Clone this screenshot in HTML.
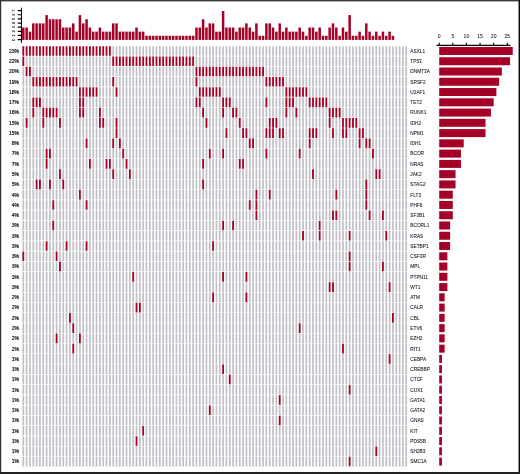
<!DOCTYPE html><html><head><meta charset="utf-8"><title>Oncoprint</title>
<style>html,body{margin:0;padding:0;background:#fff}svg{display:block}text{font-family:"Liberation Sans",sans-serif;fill:#151515;stroke:#151515;stroke-width:.14px}.gl text{stroke-width:.08px}</style></head><body>
<svg width="520" height="474" viewBox="0 0 520 474">
<rect width="520" height="474" fill="#fff"/>
<g stroke="#C1BFC7" stroke-width="9.65" stroke-dasharray="1.72 1.610" fill="none">
<path d="M112.35 50.98H407.11"/>
<path d="M25.77 61.24H110.74M195.60 61.24H407.11"/>
<path d="M22.44 71.51H24.16M32.43 71.51H193.99M265.53 71.51H407.11"/>
<path d="M22.44 81.77H30.82M79.05 81.77H110.74M115.68 81.77H193.99M198.93 81.77H263.92M285.51 81.77H407.11"/>
<path d="M22.44 92.04H77.44M99.03 92.04H114.07M119.01 92.04H197.32M222.24 92.04H283.90M308.82 92.04H407.11"/>
<path d="M22.44 102.30H30.82M42.42 102.30H77.44M85.71 102.30H193.99M202.26 102.30H220.63M232.23 102.30H263.92M268.86 102.30H283.90M295.50 102.30H307.21M328.80 102.30H407.11"/>
<path d="M22.44 112.57H30.82M35.76 112.57H40.81M59.07 112.57H77.44M85.71 112.57H97.42M102.36 112.57H200.65M205.59 112.57H220.63M225.57 112.57H230.62M238.89 112.57H283.90M288.84 112.57H293.89M298.83 112.57H327.19M342.12 112.57H407.11"/>
<path d="M22.44 122.83H24.16M29.10 122.83H40.81M45.75 122.83H57.46M62.40 122.83H97.42M105.69 122.83H114.07M119.01 122.83H203.98M208.92 122.83H237.28M242.22 122.83H267.25M278.85 122.83H327.19M332.13 122.83H340.51M358.77 122.83H407.11"/>
<path d="M22.44 133.09H114.07M119.01 133.09H223.96M228.90 133.09H240.61M248.88 133.09H263.92M275.52 133.09H277.24M285.51 133.09H307.21M318.81 133.09H330.52M335.46 133.09H340.51M348.78 133.09H357.16M365.43 133.09H407.11"/>
<path d="M22.44 143.36H84.10M89.04 143.36H110.74M115.68 143.36H117.40M122.34 143.36H247.27M255.54 143.36H307.21M312.15 143.36H357.16M362.10 143.36H363.82M372.09 143.36H407.11"/>
<path d="M22.44 153.62H44.14M52.41 153.62H120.73M125.67 153.62H207.31M212.25 153.62H220.63M225.57 153.62H263.92M268.86 153.62H297.22M302.16 153.62H370.48M375.42 153.62H407.11"/>
<path d="M22.44 163.89H44.14M49.08 163.89H87.43M92.37 163.89H104.08M112.35 163.89H124.06M129.00 163.89H200.65M205.59 163.89H237.28M245.55 163.89H407.11"/>
<path d="M22.44 174.16H57.46M62.40 174.16H110.74M115.68 174.16H127.39M132.33 174.16H310.54M315.48 174.16H373.81M382.08 174.16H407.11"/>
<path d="M22.44 184.42H34.15M42.42 184.42H47.47M52.41 184.42H60.79M65.73 184.42H200.65M205.59 184.42H363.82M368.76 184.42H407.11"/>
<path d="M22.44 194.69H77.44M82.38 194.69H253.93M258.87 194.69H267.25M272.19 194.69H333.85M338.79 194.69H363.82M368.76 194.69H407.11"/>
<path d="M22.44 204.95H50.80M55.74 204.95H84.10M89.04 204.95H247.27M252.21 204.95H253.93M258.87 204.95H363.82M368.76 204.95H407.11"/>
<path d="M22.44 215.22H253.93M258.87 215.22H330.52M338.79 215.22H367.15M372.09 215.22H380.47M385.41 215.22H407.11"/>
<path d="M22.44 225.48H50.80M55.74 225.48H220.63M225.57 225.48H230.62M235.56 225.48H317.20M322.14 225.48H407.11"/>
<path d="M22.44 235.75H300.55M305.49 235.75H317.20M322.14 235.75H347.17M352.11 235.75H383.80M388.74 235.75H407.11"/>
<path d="M22.44 246.01H44.14M49.08 246.01H64.12M69.06 246.01H84.10M89.04 246.01H210.64M215.58 246.01H407.11"/>
<path d="M25.77 256.28H54.13M59.07 256.28H347.17M352.11 256.28H407.11"/>
<path d="M22.44 266.54H57.46M62.40 266.54H347.17M352.11 266.54H380.47M385.41 266.54H407.11"/>
<path d="M22.44 276.81H130.72M135.66 276.81H220.63M225.57 276.81H243.94M248.88 276.81H407.11"/>
<path d="M22.44 287.07H327.19M335.46 287.07H387.13M392.07 287.07H407.11"/>
<path d="M22.44 297.33H210.64M215.58 297.33H243.94M248.88 297.33H407.11"/>
<path d="M22.44 307.60H134.05M142.32 307.60H407.11"/>
<path d="M22.44 317.86H67.45M72.39 317.86H390.46M395.40 317.86H407.11"/>
<path d="M22.44 328.13H70.78M75.72 328.13H297.22M302.16 328.13H407.11"/>
<path d="M22.44 338.39H54.13M59.07 338.39H77.44M82.38 338.39H407.11"/>
<path d="M22.44 348.66H70.78M75.72 348.66H340.51M345.45 348.66H407.11"/>
<path d="M22.44 358.93H387.13M392.07 358.93H407.11"/>
<path d="M22.44 369.19H220.63M225.57 369.19H407.11"/>
<path d="M22.44 379.45H227.29M232.23 379.45H407.11"/>
<path d="M22.44 389.72H347.17M352.11 389.72H407.11"/>
<path d="M22.44 399.98H277.24M282.18 399.98H407.11"/>
<path d="M22.44 410.25H207.31M212.25 410.25H407.11"/>
<path d="M22.44 420.51H277.24M282.18 420.51H407.11"/>
<path d="M22.44 430.78H140.71M145.65 430.78H407.11"/>
<path d="M22.44 441.05H134.05M138.99 441.05H407.11"/>
<path d="M22.44 451.31H373.81M378.75 451.31H407.11"/>
<path d="M22.44 461.57H347.17M352.11 461.57H407.11"/>
</g>
<g stroke="#A50026" stroke-width="9.65" stroke-dasharray="1.85 1.480" fill="none">
<path d="M22.38 50.98H110.80"/>
<path d="M22.38 61.24H24.23M112.28 61.24H194.06"/>
<path d="M25.70 71.51H30.89M195.53 71.51H263.99"/>
<path d="M32.37 81.77H77.50M112.28 81.77H114.13M195.53 81.77H197.38M265.47 81.77H283.97"/>
<path d="M78.98 92.04H97.48M115.62 92.04H117.47M198.87 92.04H220.69M285.44 92.04H307.28"/>
<path d="M32.37 102.30H40.88M78.98 102.30H84.16M195.53 102.30H200.72M222.18 102.30H230.69M265.47 102.30H267.32M285.44 102.30H293.96M308.75 102.30H327.26"/>
<path d="M32.37 112.57H34.22M42.36 112.57H57.52M78.98 112.57H84.16M98.97 112.57H100.81M202.19 112.57H204.04M222.18 112.57H224.03M232.16 112.57H237.34M285.44 112.57H287.30M295.44 112.57H297.29M328.74 112.57H340.58"/>
<path d="M25.70 122.83H27.55M42.36 122.83H44.21M59.01 122.83H60.86M98.97 122.83H104.14M115.62 122.83H117.47M205.53 122.83H207.38M238.83 122.83H240.68M268.80 122.83H277.31M328.74 122.83H330.59M342.06 122.83H357.23"/>
<path d="M115.62 133.09H117.47M225.50 133.09H227.35M242.16 133.09H247.34M265.47 133.09H273.98M278.79 133.09H283.97M308.75 133.09H317.27M332.06 133.09H333.92M342.06 133.09H347.24M358.70 133.09H363.89"/>
<path d="M85.65 143.36H87.50M112.28 143.36H114.13M118.95 143.36H120.80M248.81 143.36H254.00M308.75 143.36H310.61M358.70 143.36H360.56M365.37 143.36H370.55"/>
<path d="M45.69 153.62H50.87M122.28 153.62H124.12M208.86 153.62H210.71M222.18 153.62H224.03M265.47 153.62H267.32M298.76 153.62H300.62M372.03 153.62H373.88"/>
<path d="M45.69 163.89H47.54M88.97 163.89H90.82M105.62 163.89H110.80M125.61 163.89H127.45M202.19 163.89H204.04M238.83 163.89H244.00"/>
<path d="M59.01 174.16H60.86M112.28 174.16H114.13M128.94 174.16H130.78M312.08 174.16H313.94M375.36 174.16H380.54"/>
<path d="M35.70 184.42H40.88M49.02 184.42H50.87M62.34 184.42H64.19M202.19 184.42H204.04M365.37 184.42H367.22"/>
<path d="M78.98 194.69H80.83M255.47 194.69H257.32M268.80 194.69H270.65M335.39 194.69H337.25M365.37 194.69H367.22"/>
<path d="M52.34 204.95H54.20M85.65 204.95H87.50M248.81 204.95H250.66M255.47 204.95H257.32M365.37 204.95H367.22"/>
<path d="M255.47 215.22H257.32M332.06 215.22H337.25M368.69 215.22H370.55M382.01 215.22H383.87"/>
<path d="M52.34 225.48H54.20M222.18 225.48H224.03M232.16 225.48H234.01M318.75 225.48H320.60"/>
<path d="M302.10 235.75H303.95M318.75 235.75H320.60M348.72 235.75H350.57M385.35 235.75H387.20"/>
<path d="M45.69 246.01H47.54M65.66 246.01H67.51M85.65 246.01H87.50M212.19 246.01H214.03"/>
<path d="M22.38 256.28H24.23M55.67 256.28H57.52M348.72 256.28H350.57"/>
<path d="M59.01 266.54H60.86M348.72 266.54H350.57M382.01 266.54H383.87"/>
<path d="M132.26 276.81H134.11M222.18 276.81H224.03M245.49 276.81H247.34"/>
<path d="M328.74 287.07H333.92M388.68 287.07H390.53"/>
<path d="M212.19 297.33H214.03M245.49 297.33H247.34"/>
<path d="M135.59 307.60H140.78"/>
<path d="M69.00 317.86H70.84M392.00 317.86H393.86"/>
<path d="M72.33 328.13H74.17M298.76 328.13H300.62"/>
<path d="M55.67 338.39H57.52M78.98 338.39H80.83"/>
<path d="M72.33 348.66H74.17M342.06 348.66H343.91"/>
<path d="M388.68 358.93H390.53"/>
<path d="M222.18 369.19H224.03"/>
<path d="M228.84 379.45H230.69"/>
<path d="M348.72 389.72H350.57"/>
<path d="M278.79 399.98H280.64"/>
<path d="M208.86 410.25H210.71"/>
<path d="M278.79 420.51H280.64"/>
<path d="M142.25 430.78H144.10"/>
<path d="M135.59 441.05H137.44"/>
<path d="M375.36 451.31H377.21"/>
<path d="M348.72 461.57H350.57"/>
</g>
<g fill="#A50026">
<rect x="22.05" y="27.51" width="2.5" height="12.39"/>
<rect x="25.38" y="27.51" width="2.5" height="12.39"/>
<rect x="28.71" y="31.64" width="2.5" height="8.26"/>
<rect x="32.04" y="23.38" width="2.5" height="16.52"/>
<rect x="35.37" y="23.38" width="2.5" height="16.52"/>
<rect x="38.70" y="23.38" width="2.5" height="16.52"/>
<rect x="42.03" y="23.38" width="2.5" height="16.52"/>
<rect x="45.36" y="15.12" width="2.5" height="24.78"/>
<rect x="48.69" y="19.25" width="2.5" height="20.65"/>
<rect x="52.02" y="19.25" width="2.5" height="20.65"/>
<rect x="55.35" y="19.25" width="2.5" height="20.65"/>
<rect x="58.68" y="19.25" width="2.5" height="20.65"/>
<rect x="62.01" y="27.51" width="2.5" height="12.39"/>
<rect x="65.34" y="27.51" width="2.5" height="12.39"/>
<rect x="68.67" y="27.51" width="2.5" height="12.39"/>
<rect x="72.00" y="23.38" width="2.5" height="16.52"/>
<rect x="75.33" y="31.64" width="2.5" height="8.26"/>
<rect x="78.66" y="15.12" width="2.5" height="24.78"/>
<rect x="81.99" y="23.38" width="2.5" height="16.52"/>
<rect x="85.32" y="19.25" width="2.5" height="20.65"/>
<rect x="88.65" y="27.51" width="2.5" height="12.39"/>
<rect x="91.98" y="31.64" width="2.5" height="8.26"/>
<rect x="95.31" y="31.64" width="2.5" height="8.26"/>
<rect x="98.64" y="27.51" width="2.5" height="12.39"/>
<rect x="101.97" y="31.64" width="2.5" height="8.26"/>
<rect x="105.30" y="31.64" width="2.5" height="8.26"/>
<rect x="108.63" y="31.64" width="2.5" height="8.26"/>
<rect x="111.96" y="23.38" width="2.5" height="16.52"/>
<rect x="115.29" y="23.38" width="2.5" height="16.52"/>
<rect x="118.62" y="31.64" width="2.5" height="8.26"/>
<rect x="121.95" y="31.64" width="2.5" height="8.26"/>
<rect x="125.28" y="31.64" width="2.5" height="8.26"/>
<rect x="128.61" y="31.64" width="2.5" height="8.26"/>
<rect x="131.94" y="31.64" width="2.5" height="8.26"/>
<rect x="135.27" y="27.51" width="2.5" height="12.39"/>
<rect x="138.60" y="31.64" width="2.5" height="8.26"/>
<rect x="141.93" y="31.64" width="2.5" height="8.26"/>
<rect x="145.26" y="35.77" width="2.5" height="4.13"/>
<rect x="148.59" y="35.77" width="2.5" height="4.13"/>
<rect x="151.92" y="35.77" width="2.5" height="4.13"/>
<rect x="155.25" y="35.77" width="2.5" height="4.13"/>
<rect x="158.58" y="35.77" width="2.5" height="4.13"/>
<rect x="161.91" y="35.77" width="2.5" height="4.13"/>
<rect x="165.24" y="35.77" width="2.5" height="4.13"/>
<rect x="168.57" y="35.77" width="2.5" height="4.13"/>
<rect x="171.90" y="35.77" width="2.5" height="4.13"/>
<rect x="175.23" y="35.77" width="2.5" height="4.13"/>
<rect x="178.56" y="35.77" width="2.5" height="4.13"/>
<rect x="181.89" y="35.77" width="2.5" height="4.13"/>
<rect x="185.22" y="35.77" width="2.5" height="4.13"/>
<rect x="188.55" y="35.77" width="2.5" height="4.13"/>
<rect x="191.88" y="35.77" width="2.5" height="4.13"/>
<rect x="195.21" y="27.51" width="2.5" height="12.39"/>
<rect x="198.54" y="27.51" width="2.5" height="12.39"/>
<rect x="201.87" y="19.25" width="2.5" height="20.65"/>
<rect x="205.20" y="27.51" width="2.5" height="12.39"/>
<rect x="208.53" y="23.38" width="2.5" height="16.52"/>
<rect x="211.86" y="23.38" width="2.5" height="16.52"/>
<rect x="215.19" y="31.64" width="2.5" height="8.26"/>
<rect x="218.52" y="31.64" width="2.5" height="8.26"/>
<rect x="221.85" y="10.99" width="2.5" height="28.91"/>
<rect x="225.18" y="27.51" width="2.5" height="12.39"/>
<rect x="228.51" y="27.51" width="2.5" height="12.39"/>
<rect x="231.84" y="27.51" width="2.5" height="12.39"/>
<rect x="235.17" y="31.64" width="2.5" height="8.26"/>
<rect x="238.50" y="27.51" width="2.5" height="12.39"/>
<rect x="241.83" y="27.51" width="2.5" height="12.39"/>
<rect x="245.16" y="23.38" width="2.5" height="16.52"/>
<rect x="248.49" y="27.51" width="2.5" height="12.39"/>
<rect x="251.82" y="31.64" width="2.5" height="8.26"/>
<rect x="255.15" y="23.38" width="2.5" height="16.52"/>
<rect x="258.48" y="35.77" width="2.5" height="4.13"/>
<rect x="261.81" y="35.77" width="2.5" height="4.13"/>
<rect x="265.14" y="23.38" width="2.5" height="16.52"/>
<rect x="268.47" y="23.38" width="2.5" height="16.52"/>
<rect x="271.80" y="27.51" width="2.5" height="12.39"/>
<rect x="275.13" y="31.64" width="2.5" height="8.26"/>
<rect x="278.46" y="23.38" width="2.5" height="16.52"/>
<rect x="281.79" y="31.64" width="2.5" height="8.26"/>
<rect x="285.12" y="27.51" width="2.5" height="12.39"/>
<rect x="288.45" y="31.64" width="2.5" height="8.26"/>
<rect x="291.78" y="31.64" width="2.5" height="8.26"/>
<rect x="295.11" y="31.64" width="2.5" height="8.26"/>
<rect x="298.44" y="27.51" width="2.5" height="12.39"/>
<rect x="301.77" y="31.64" width="2.5" height="8.26"/>
<rect x="305.10" y="35.77" width="2.5" height="4.13"/>
<rect x="308.43" y="27.51" width="2.5" height="12.39"/>
<rect x="311.76" y="27.51" width="2.5" height="12.39"/>
<rect x="315.09" y="31.64" width="2.5" height="8.26"/>
<rect x="318.42" y="27.51" width="2.5" height="12.39"/>
<rect x="321.75" y="35.77" width="2.5" height="4.13"/>
<rect x="325.08" y="35.77" width="2.5" height="4.13"/>
<rect x="328.41" y="27.51" width="2.5" height="12.39"/>
<rect x="331.74" y="23.38" width="2.5" height="16.52"/>
<rect x="335.07" y="27.51" width="2.5" height="12.39"/>
<rect x="338.40" y="35.77" width="2.5" height="4.13"/>
<rect x="341.73" y="27.51" width="2.5" height="12.39"/>
<rect x="345.06" y="31.64" width="2.5" height="8.26"/>
<rect x="348.39" y="15.12" width="2.5" height="24.78"/>
<rect x="351.72" y="35.77" width="2.5" height="4.13"/>
<rect x="355.05" y="35.77" width="2.5" height="4.13"/>
<rect x="358.38" y="31.64" width="2.5" height="8.26"/>
<rect x="361.71" y="35.77" width="2.5" height="4.13"/>
<rect x="365.04" y="23.38" width="2.5" height="16.52"/>
<rect x="368.37" y="31.64" width="2.5" height="8.26"/>
<rect x="371.70" y="35.77" width="2.5" height="4.13"/>
<rect x="375.03" y="31.64" width="2.5" height="8.26"/>
<rect x="378.36" y="35.77" width="2.5" height="4.13"/>
<rect x="381.69" y="31.64" width="2.5" height="8.26"/>
<rect x="385.02" y="35.77" width="2.5" height="4.13"/>
<rect x="388.35" y="31.64" width="2.5" height="8.26"/>
<rect x="391.68" y="35.77" width="2.5" height="4.13"/>
</g>
<g stroke="#000" fill="none">
<path stroke-width="1" d="M21.45 7.7V42.8"/>
<path stroke-width="1.2" d="M17.7 39.60H21.45M17.7 35.46H21.45M17.7 31.32H21.45M17.7 27.18H21.45M17.7 23.04H21.45M17.7 18.90H21.45M17.7 14.76H21.45M17.7 10.62H21.45"/>
</g>
<text transform="translate(14.7 39.60) rotate(-90)" font-size="4" text-anchor="middle" style="stroke-width:.1px;fill:#000;stroke:#000">0</text>
<text transform="translate(14.7 35.46) rotate(-90)" font-size="4" text-anchor="middle" style="stroke-width:.1px;fill:#000;stroke:#000">1</text>
<text transform="translate(14.7 31.32) rotate(-90)" font-size="4" text-anchor="middle" style="stroke-width:.1px;fill:#000;stroke:#000">2</text>
<text transform="translate(14.7 27.18) rotate(-90)" font-size="4" text-anchor="middle" style="stroke-width:.1px;fill:#000;stroke:#000">3</text>
<text transform="translate(14.7 23.04) rotate(-90)" font-size="4" text-anchor="middle" style="stroke-width:.1px;fill:#000;stroke:#000">4</text>
<text transform="translate(14.7 18.90) rotate(-90)" font-size="4" text-anchor="middle" style="stroke-width:.1px;fill:#000;stroke:#000">5</text>
<text transform="translate(14.7 14.76) rotate(-90)" font-size="4" text-anchor="middle" style="stroke-width:.1px;fill:#000;stroke:#000">6</text>
<text transform="translate(14.7 10.62) rotate(-90)" font-size="4" text-anchor="middle" style="stroke-width:.1px;fill:#000;stroke:#000">7</text>
<text x="19.1" y="52.83" font-size="5.3" text-anchor="end" style="stroke-width:.2px" textLength="10.2" lengthAdjust="spacingAndGlyphs">23%</text>
<text x="19.1" y="63.09" font-size="5.3" text-anchor="end" style="stroke-width:.2px" textLength="10.2" lengthAdjust="spacingAndGlyphs">22%</text>
<text x="19.1" y="73.36" font-size="5.3" text-anchor="end" style="stroke-width:.2px" textLength="10.2" lengthAdjust="spacingAndGlyphs">20%</text>
<text x="19.1" y="83.62" font-size="5.3" text-anchor="end" style="stroke-width:.2px" textLength="10.2" lengthAdjust="spacingAndGlyphs">19%</text>
<text x="19.1" y="93.89" font-size="5.3" text-anchor="end" style="stroke-width:.2px" textLength="10.2" lengthAdjust="spacingAndGlyphs">18%</text>
<text x="19.1" y="104.15" font-size="5.3" text-anchor="end" style="stroke-width:.2px" textLength="10.2" lengthAdjust="spacingAndGlyphs">17%</text>
<text x="19.1" y="114.42" font-size="5.3" text-anchor="end" style="stroke-width:.2px" textLength="10.2" lengthAdjust="spacingAndGlyphs">16%</text>
<text x="19.1" y="124.68" font-size="5.3" text-anchor="end" style="stroke-width:.2px" textLength="10.2" lengthAdjust="spacingAndGlyphs">15%</text>
<text x="19.1" y="134.94" font-size="5.3" text-anchor="end" style="stroke-width:.2px" textLength="10.2" lengthAdjust="spacingAndGlyphs">15%</text>
<text x="19.1" y="145.21" font-size="5.3" text-anchor="end" style="stroke-width:.2px" textLength="7.4" lengthAdjust="spacingAndGlyphs">8%</text>
<text x="19.1" y="155.47" font-size="5.3" text-anchor="end" style="stroke-width:.2px" textLength="7.4" lengthAdjust="spacingAndGlyphs">7%</text>
<text x="19.1" y="165.74" font-size="5.3" text-anchor="end" style="stroke-width:.2px" textLength="7.4" lengthAdjust="spacingAndGlyphs">7%</text>
<text x="19.1" y="176.00" font-size="5.3" text-anchor="end" style="stroke-width:.2px" textLength="7.4" lengthAdjust="spacingAndGlyphs">5%</text>
<text x="19.1" y="186.27" font-size="5.3" text-anchor="end" style="stroke-width:.2px" textLength="7.4" lengthAdjust="spacingAndGlyphs">5%</text>
<text x="19.1" y="196.53" font-size="5.3" text-anchor="end" style="stroke-width:.2px" textLength="7.4" lengthAdjust="spacingAndGlyphs">4%</text>
<text x="19.1" y="206.80" font-size="5.3" text-anchor="end" style="stroke-width:.2px" textLength="7.4" lengthAdjust="spacingAndGlyphs">4%</text>
<text x="19.1" y="217.06" font-size="5.3" text-anchor="end" style="stroke-width:.2px" textLength="7.4" lengthAdjust="spacingAndGlyphs">4%</text>
<text x="19.1" y="227.33" font-size="5.3" text-anchor="end" style="stroke-width:.2px" textLength="7.4" lengthAdjust="spacingAndGlyphs">3%</text>
<text x="19.1" y="237.59" font-size="5.3" text-anchor="end" style="stroke-width:.2px" textLength="7.4" lengthAdjust="spacingAndGlyphs">3%</text>
<text x="19.1" y="247.86" font-size="5.3" text-anchor="end" style="stroke-width:.2px" textLength="7.4" lengthAdjust="spacingAndGlyphs">3%</text>
<text x="19.1" y="258.13" font-size="5.3" text-anchor="end" style="stroke-width:.2px" textLength="7.4" lengthAdjust="spacingAndGlyphs">3%</text>
<text x="19.1" y="268.39" font-size="5.3" text-anchor="end" style="stroke-width:.2px" textLength="7.4" lengthAdjust="spacingAndGlyphs">3%</text>
<text x="19.1" y="278.66" font-size="5.3" text-anchor="end" style="stroke-width:.2px" textLength="7.4" lengthAdjust="spacingAndGlyphs">3%</text>
<text x="19.1" y="288.92" font-size="5.3" text-anchor="end" style="stroke-width:.2px" textLength="7.4" lengthAdjust="spacingAndGlyphs">3%</text>
<text x="19.1" y="299.19" font-size="5.3" text-anchor="end" style="stroke-width:.2px" textLength="7.4" lengthAdjust="spacingAndGlyphs">2%</text>
<text x="19.1" y="309.45" font-size="5.3" text-anchor="end" style="stroke-width:.2px" textLength="7.4" lengthAdjust="spacingAndGlyphs">2%</text>
<text x="19.1" y="319.71" font-size="5.3" text-anchor="end" style="stroke-width:.2px" textLength="7.4" lengthAdjust="spacingAndGlyphs">2%</text>
<text x="19.1" y="329.98" font-size="5.3" text-anchor="end" style="stroke-width:.2px" textLength="7.4" lengthAdjust="spacingAndGlyphs">2%</text>
<text x="19.1" y="340.25" font-size="5.3" text-anchor="end" style="stroke-width:.2px" textLength="7.4" lengthAdjust="spacingAndGlyphs">2%</text>
<text x="19.1" y="350.51" font-size="5.3" text-anchor="end" style="stroke-width:.2px" textLength="7.4" lengthAdjust="spacingAndGlyphs">2%</text>
<text x="19.1" y="360.78" font-size="5.3" text-anchor="end" style="stroke-width:.2px" textLength="7.4" lengthAdjust="spacingAndGlyphs">1%</text>
<text x="19.1" y="371.04" font-size="5.3" text-anchor="end" style="stroke-width:.2px" textLength="7.4" lengthAdjust="spacingAndGlyphs">1%</text>
<text x="19.1" y="381.31" font-size="5.3" text-anchor="end" style="stroke-width:.2px" textLength="7.4" lengthAdjust="spacingAndGlyphs">1%</text>
<text x="19.1" y="391.57" font-size="5.3" text-anchor="end" style="stroke-width:.2px" textLength="7.4" lengthAdjust="spacingAndGlyphs">1%</text>
<text x="19.1" y="401.83" font-size="5.3" text-anchor="end" style="stroke-width:.2px" textLength="7.4" lengthAdjust="spacingAndGlyphs">1%</text>
<text x="19.1" y="412.10" font-size="5.3" text-anchor="end" style="stroke-width:.2px" textLength="7.4" lengthAdjust="spacingAndGlyphs">1%</text>
<text x="19.1" y="422.37" font-size="5.3" text-anchor="end" style="stroke-width:.2px" textLength="7.4" lengthAdjust="spacingAndGlyphs">1%</text>
<text x="19.1" y="432.63" font-size="5.3" text-anchor="end" style="stroke-width:.2px" textLength="7.4" lengthAdjust="spacingAndGlyphs">1%</text>
<text x="19.1" y="442.90" font-size="5.3" text-anchor="end" style="stroke-width:.2px" textLength="7.4" lengthAdjust="spacingAndGlyphs">1%</text>
<text x="19.1" y="453.16" font-size="5.3" text-anchor="end" style="stroke-width:.2px" textLength="7.4" lengthAdjust="spacingAndGlyphs">1%</text>
<text x="19.1" y="463.43" font-size="5.3" text-anchor="end" style="stroke-width:.2px" textLength="7.4" lengthAdjust="spacingAndGlyphs">1%</text>
<g class="gl" transform="translate(410.3 0) scale(0.9 1)">
<text x="0" y="52.83" font-size="5.3">ASXL1</text>
<text x="0" y="63.09" font-size="5.3">TP53</text>
<text x="0" y="73.36" font-size="5.3">DNMT3A</text>
<text x="0" y="83.62" font-size="5.3">SRSF2</text>
<text x="0" y="93.89" font-size="5.3">U2AF1</text>
<text x="0" y="104.15" font-size="5.3">TET2</text>
<text x="0" y="114.42" font-size="5.3">RUNX1</text>
<text x="0" y="124.68" font-size="5.3">IDH2</text>
<text x="0" y="134.94" font-size="5.3">NPM1</text>
<text x="0" y="145.21" font-size="5.3">IDH1</text>
<text x="0" y="155.47" font-size="5.3">BCOR</text>
<text x="0" y="165.74" font-size="5.3">NRAS</text>
<text x="0" y="176.00" font-size="5.3">JAK2</text>
<text x="0" y="186.27" font-size="5.3">STAG2</text>
<text x="0" y="196.53" font-size="5.3">FLT3</text>
<text x="0" y="206.80" font-size="5.3">PHF6</text>
<text x="0" y="217.06" font-size="5.3">SF3B1</text>
<text x="0" y="227.33" font-size="5.3">BCORL1</text>
<text x="0" y="237.59" font-size="5.3">KRAS</text>
<text x="0" y="247.86" font-size="5.3">SETBP1</text>
<text x="0" y="258.13" font-size="5.3">CSF3R</text>
<text x="0" y="268.39" font-size="5.3">MPL</text>
<text x="0" y="278.66" font-size="5.3">PTPN11</text>
<text x="0" y="288.92" font-size="5.3">WT1</text>
<text x="0" y="299.19" font-size="5.3">ATM</text>
<text x="0" y="309.45" font-size="5.3">CALR</text>
<text x="0" y="319.71" font-size="5.3">CBL</text>
<text x="0" y="329.98" font-size="5.3">ETV6</text>
<text x="0" y="340.25" font-size="5.3">EZH2</text>
<text x="0" y="350.51" font-size="5.3">RIT1</text>
<text x="0" y="360.78" font-size="5.3">CEBPA</text>
<text x="0" y="371.04" font-size="5.3">CREBBP</text>
<text x="0" y="381.31" font-size="5.3">CTCF</text>
<text x="0" y="391.57" font-size="5.3">CUX1</text>
<text x="0" y="401.83" font-size="5.3">GATA1</text>
<text x="0" y="412.10" font-size="5.3">GATA2</text>
<text x="0" y="422.37" font-size="5.3">GNAS</text>
<text x="0" y="432.63" font-size="5.3">KIT</text>
<text x="0" y="442.90" font-size="5.3">PDS5B</text>
<text x="0" y="453.16" font-size="5.3">SH2B3</text>
<text x="0" y="463.43" font-size="5.3">SMC1A</text>
</g>
<g fill="#A50026">
<rect x="439.2" y="46.98" width="73.55" height="8"/>
<rect x="439.2" y="57.24" width="70.82" height="8"/>
<rect x="439.2" y="67.51" width="62.65" height="8"/>
<rect x="439.2" y="77.77" width="59.93" height="8"/>
<rect x="439.2" y="88.04" width="57.20" height="8"/>
<rect x="439.2" y="98.30" width="54.48" height="8"/>
<rect x="439.2" y="108.57" width="51.76" height="8"/>
<rect x="439.2" y="118.83" width="46.31" height="8"/>
<rect x="439.2" y="129.09" width="46.31" height="8"/>
<rect x="439.2" y="139.36" width="24.52" height="8"/>
<rect x="439.2" y="149.62" width="21.79" height="8"/>
<rect x="439.2" y="159.89" width="21.79" height="8"/>
<rect x="439.2" y="170.16" width="16.34" height="8"/>
<rect x="439.2" y="180.42" width="16.34" height="8"/>
<rect x="439.2" y="190.69" width="13.62" height="8"/>
<rect x="439.2" y="200.95" width="13.62" height="8"/>
<rect x="439.2" y="211.22" width="13.62" height="8"/>
<rect x="439.2" y="221.48" width="10.90" height="8"/>
<rect x="439.2" y="231.75" width="10.90" height="8"/>
<rect x="439.2" y="242.01" width="10.90" height="8"/>
<rect x="439.2" y="252.28" width="8.17" height="8"/>
<rect x="439.2" y="262.54" width="8.17" height="8"/>
<rect x="439.2" y="272.81" width="8.17" height="8"/>
<rect x="439.2" y="283.07" width="8.17" height="8"/>
<rect x="439.2" y="293.33" width="5.45" height="8"/>
<rect x="439.2" y="303.60" width="5.45" height="8"/>
<rect x="439.2" y="313.86" width="5.45" height="8"/>
<rect x="439.2" y="324.13" width="5.45" height="8"/>
<rect x="439.2" y="334.39" width="5.45" height="8"/>
<rect x="439.2" y="344.66" width="5.45" height="8"/>
<rect x="439.2" y="354.93" width="2.72" height="8"/>
<rect x="439.2" y="365.19" width="2.72" height="8"/>
<rect x="439.2" y="375.45" width="2.72" height="8"/>
<rect x="439.2" y="385.72" width="2.72" height="8"/>
<rect x="439.2" y="395.98" width="2.72" height="8"/>
<rect x="439.2" y="406.25" width="2.72" height="8"/>
<rect x="439.2" y="416.51" width="2.72" height="8"/>
<rect x="439.2" y="426.78" width="2.72" height="8"/>
<rect x="439.2" y="437.05" width="2.72" height="8"/>
<rect x="439.2" y="447.31" width="2.72" height="8"/>
<rect x="439.2" y="457.57" width="2.72" height="8"/>
</g>
<g stroke="#000" fill="none">
<path stroke-width="1.1" d="M436.6 45.4H510.4"/>
<path stroke-width="1.1" d="M439.20 42.7V45.4M452.82 42.7V45.4M466.44 42.7V45.4M480.06 42.7V45.4M493.68 42.7V45.4M507.30 42.7V45.4"/>
</g>
<text x="439.20" y="37.9" font-size="5.1" text-anchor="middle" style="stroke-width:.05px">0</text>
<text x="452.82" y="37.9" font-size="5.1" text-anchor="middle" style="stroke-width:.05px">5</text>
<text x="466.44" y="37.9" font-size="5.1" text-anchor="middle" style="stroke-width:.05px">10</text>
<text x="480.06" y="37.9" font-size="5.1" text-anchor="middle" style="stroke-width:.05px">15</text>
<text x="493.68" y="37.9" font-size="5.1" text-anchor="middle" style="stroke-width:.05px">20</text>
<text x="507.30" y="37.9" font-size="5.1" text-anchor="middle" style="stroke-width:.05px">25</text>
<rect x="0" y="0" width="520" height="1.4" fill="#3a3a3a"/>
<rect x="0" y="0" width="1.2" height="474" fill="#2e2e2e"/>
<rect x="518.55" y="0" width="1.45" height="474" fill="#0a0a0a"/>
<rect x="0" y="472" width="520" height="2" fill="#222"/>
</svg></body></html>
